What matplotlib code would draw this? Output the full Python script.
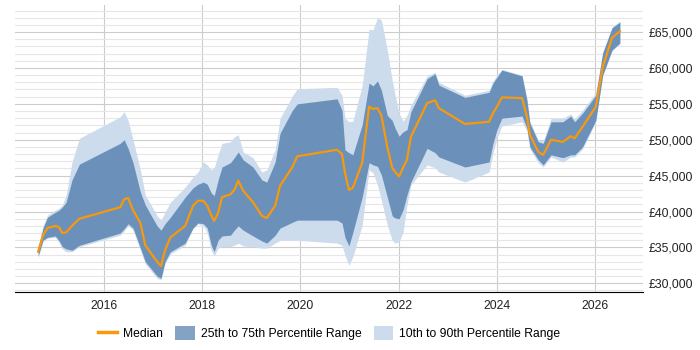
import numpy as np
import matplotlib.pyplot as plt
from matplotlib.lines import Line2D
from matplotlib.patches import Patch
from matplotlib.ticker import FuncFormatter, MultipleLocator

plt.rcParams['font.family'] = ['Liberation Sans', 'DejaVu Sans']

# decimal years
years = [2014.67, 2014.77, 2014.86, 2015.02, 2015.10, 2015.16, 2015.24, 2015.36, 2015.51,
         2016.34, 2016.42, 2016.50, 2016.60, 2016.75, 2016.85, 2017.09, 2017.17, 2017.25,
         2017.36, 2017.66, 2017.82, 2017.92, 2018.03, 2018.11, 2018.19, 2018.25, 2018.33,
         2018.41, 2018.58, 2018.66, 2018.74, 2018.84, 2019.04, 2019.22, 2019.32, 2019.49,
         2019.59, 2019.84, 2019.94, 2020.75, 2020.85, 2020.91, 2020.99, 2021.07, 2021.26,
         2021.40, 2021.48, 2021.57, 2021.65, 2021.77, 2021.87, 2021.93, 2022.01, 2022.09,
         2022.17, 2022.25, 2022.58, 2022.74, 2022.82, 2023.35, 2023.84, 2023.92, 2024.00,
         2024.10, 2024.51, 2024.61, 2024.67, 2024.84, 2024.94, 2025.10, 2025.34, 2025.50,
         2025.58, 2025.74, 2026.01, 2026.15, 2026.34, 2026.50]

median = [34400, 36700, 37700, 38000, 37800, 37000, 37100, 38000, 39000,
          40600, 41700, 41900, 40200, 38400, 35300, 33000, 32400, 34600,
          36400, 38000, 40800, 41500, 41500, 40800, 39500, 38700, 39800,
          42000, 42400, 43000, 44300, 42900, 41300, 39400, 39100, 40800,
          43600, 46200, 47700, 48600, 48000, 45400, 43000, 43300, 46800,
          54600, 54300, 54400, 53400, 49000, 46100, 45500, 44900, 46100,
          47200, 50400, 55100, 55500, 54400, 52200, 52500, 53700, 54600,
          55900, 55800, 53200, 50700, 48300, 47900, 50000, 49700, 50500,
          50200, 51800, 54600, 60100, 64200, 65100]

p75 = [34900, 37700, 39200, 39900, 40200, 40600, 41300, 44400, 46600,
       49500, 50000, 48800, 46800, 42700, 40900, 38000, 37400, 38300,
       39200, 42000, 43300, 43800, 44100, 43800, 42600, 42200, 44400,
       46200, 46800, 47500, 48300, 47200, 46200, 44400, 44100, 46900,
       50900, 54100, 55000, 55700, 54100, 48600, 48200, 47900, 52100,
       57900, 57500, 58200, 56900, 53400, 52700, 51600, 50500, 51100,
       51400, 53900, 58500, 59200, 57600, 55900, 56600, 57900, 58700,
       59700, 58900, 55500, 52300, 49700, 49500, 52500, 52500, 53300,
       52500, 53700, 56200, 62100, 65600, 66400]

p25 = [33800, 36000, 36400, 36600, 35900, 35100, 34800, 34600, 35300,
       37000, 37600, 38300, 37700, 34900, 33000, 31000, 30700, 33000,
       34400, 35600, 37700, 38400, 38300, 37700, 35300, 34400, 36000,
       36600, 36700, 37400, 38000, 37400, 36600, 35900, 35600, 36700,
       37700, 38500, 38800, 38800, 38400, 36400, 35200, 37100, 42000,
       46800, 46500, 46300, 45100, 42000, 39400, 39100, 39000, 40200,
       42300, 44100, 48800, 48200, 47600, 46200, 46900, 49500, 51400,
       53000, 53300, 51600, 49000, 47200, 46500, 47900, 47500, 47900,
       47900, 49000, 52700, 59000, 62500, 63500]

p90 = [35100, 38000, 39500, 40200, 40500, 40900, 42300, 46900, 50200,
       53200, 53900, 52700, 50000, 45800, 42300, 39400, 38800, 39900,
       41300, 43400, 44800, 45500, 46900, 46500, 45800, 46100, 47900,
       49500, 49700, 50400, 50700, 48300, 47500, 45500, 45800, 48600,
       53000, 56100, 57100, 57300, 56200, 53000, 52500, 52600, 57600,
       65400, 65300, 67000, 66700, 62500, 58300, 56200, 53700, 52600,
       53400, 54800, 58900, 59400, 58000, 56200, 56900, 58200, 59000,
       59800, 59000, 55700, 52600, 50000, 49800, 53000, 53000, 53600,
       52900, 54100, 56600, 62200, 65700, 66500]

p10 = [33500, 35800, 36300, 36400, 35600, 34800, 34400, 34400, 35100,
       36700, 37300, 38000, 37400, 34600, 32700, 30700, 30500, 32700,
       34100, 35300, 37600, 38300, 38000, 37000, 34600, 33800, 34900,
       35100, 35100, 35300, 35600, 35200, 35100, 34900, 34900, 35600,
       36000, 36000, 36000, 35600, 35300, 33900, 32500, 33700, 38100,
       45800, 45400, 43700, 41600, 38100, 36000, 35600, 35800, 37100,
       40900, 43700, 46500, 46100, 45500, 44100, 45500, 48200, 50200,
       51900, 52500, 51200, 48700, 46800, 46200, 47600, 46900, 47600,
       47600, 48700, 52500, 58900, 62400, 63300]

x_ticks = [2016, 2018, 2020, 2022, 2024, 2026]

fig = plt.figure(figsize=(7, 3.5), dpi=100)
ax = fig.add_axes([0.0214, 0.1657, 0.8972, 0.82])

light = '#cddcec'
dark = '#0a468a'
orange = '#f7990c'

ax.fill_between(years, p10, p90, color=light, lw=0, zorder=2)
ax.fill_between(years, p25, p75, color=dark, alpha=0.5, lw=0, zorder=3)
ax.plot(years, median, color=orange, lw=1.6, zorder=4)

ax.set_xlim(2014.2, 2026.97)
ax.set_ylim(28790, 68770)

ax.set_xticks(x_ticks)
ax.set_xticklabels([str(t) for t in x_ticks])
ax.yaxis.set_major_locator(MultipleLocator(5000))
ax.yaxis.set_minor_locator(MultipleLocator(1000))
ax.yaxis.set_major_formatter(FuncFormatter(lambda v, p: '£{:,.0f}'.format(v)))
ax.yaxis.tick_right()

ax.grid(axis='y', which='major', color='#cccccc', lw=0.8, zorder=0)
ax.grid(axis='y', which='minor', color='#e6e6e6', lw=0.8, zorder=0)
ax.grid(axis='x', which='major', color='#cccccc', lw=0.8, zorder=0)

for s in ['left', 'right', 'top']:
    ax.spines[s].set_visible(False)
ax.spines['bottom'].set_color('black')
ax.tick_params(axis='both', which='both', length=0, labelsize=8.8, colors='#222222')
ax.tick_params(axis='x', pad=6)
ax.tick_params(axis='y', pad=4)

handles = [Line2D([0], [0], color=orange, lw=2.5),
           Patch(facecolor=dark, alpha=0.5, edgecolor='none'),
           Patch(facecolor=light, edgecolor='none')]
labels = ['Median', '25th to 75th Percentile Range', '10th to 90th Percentile Range']
fig.legend(handles, labels, loc='center', bbox_to_anchor=(0.47, 0.048), ncol=3,
           frameon=False, fontsize=8.7, handlelength=1.6, handleheight=1.3,
           columnspacing=1.0, handletextpad=0.5)

fig.savefig('out.png', dpi=100)
